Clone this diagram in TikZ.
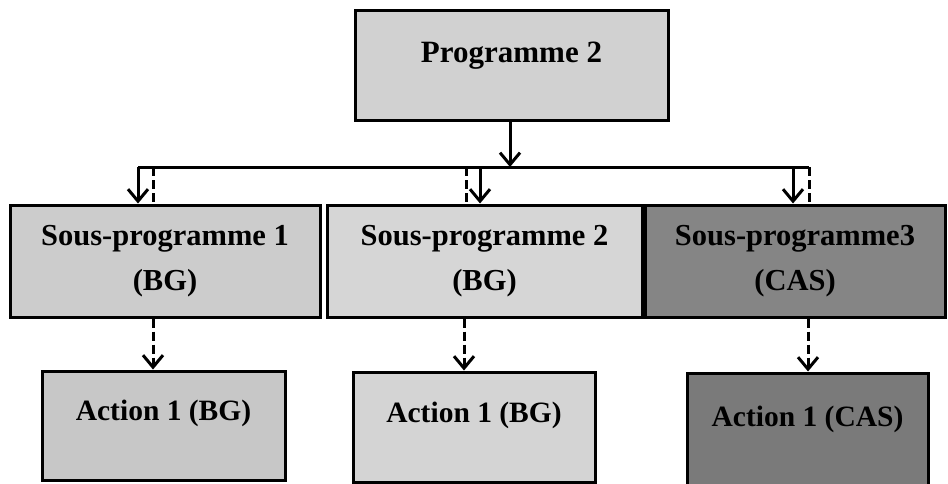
\documentclass[tikz,border=0pt]{standalone}
\usepackage{fontspec}
\setmainfont{Liberation Serif}
\usetikzlibrary{arrows.meta}
\begin{document}
\begin{tikzpicture}[x=1pt,y=-1pt,
  box/.style={draw=black, line width=3pt, rectangle, inner sep=0pt, align=center,
    font=\fontsize{30.5}{45}\selectfont\bfseries},
  light/.style={box, fill=black!18},
  dark/.style={box, fill=black!48},
  actfont/.style={font=\fontsize{29.5}{34}\selectfont\bfseries, text height=20pt, text depth=30pt},
  link/.style={line width=3pt},
  arr/.style={link, -{Straight Barb[length=12pt,width=20pt]}},
  dashlink/.style={link, dash pattern=on 9pt off 4pt},
  darr/.style={dashlink, -{Straight Barb[length=12pt,width=20pt]}}
]
\useasboundingbox (0,0) rectangle (948,483);
\fill[white] (0,0) rectangle (948,483);

\node[light, minimum width=313pt, minimum height=110pt, font=\fontsize{31}{34}\selectfont\bfseries, text height=20pt, text depth=26pt] (p2) at (511.5,65) {Programme 2};

\node[light, fill=black!20, minimum width=310pt, minimum height=112pt] (s1) at (165,261) {Sous-programme 1\\(BG)};
\node[light, fill=black!16, minimum width=315pt, minimum height=112pt] (s2) at (484.5,261) {Sous-programme 2\\(BG)};
\node[dark, minimum width=300pt, minimum height=112pt] (s3) at (795,261) {Sous-programme3\\(CAS)};

\node[light, actfont, fill=black!22, minimum width=243pt, minimum height=109pt] (a1) at (163.5,425.5) {Action 1 (BG)};
\node[light, actfont, fill=black!17, minimum width=242pt, minimum height=110pt] (a2) at (474,427) {Action 1 (BG)};
\node[dark, actfont, fill=black!52, minimum width=241pt, minimum height=117pt] (a3) at (807.5,431.5) {Action 1 (CAS)};

% bus
\coordinate (busL) at (138,167);
\coordinate (busR) at (809,167);
\coordinate (busM) at (510,167);
\coordinate (t2) at (480,167);
\coordinate (t3) at (793,167);
\coordinate (d1) at (153,167);
\coordinate (d2) at (466,167);

\draw[arr] (p2.south -| busM) -- (busM);
\draw[link] (busL) -- (busR);

\draw[arr] (busL) -- (busL |- s1.north);
\draw[arr] (t2) -- (t2 |- s2.north);
\draw[arr] (t3) -- (t3 |- s3.north);

\draw[dashlink] (d1) -- (d1 |- s1.north);
\draw[dashlink] (d2) -- (d2 |- s2.north);
\draw[dashlink] (busR) -- (busR |- s3.north);

% lower dashed arrows
\coordinate (e1) at (153,317);
\coordinate (e2) at (464,317);
\coordinate (e3) at (808,317);
\draw[darr] (s1.south -| e1) -- (a1.north -| e1);
\draw[darr] (s2.south -| e2) -- (a2.north -| e2);
\draw[darr] (s3.south -| e3) -- (a3.north -| e3);
\end{tikzpicture}
\end{document}
